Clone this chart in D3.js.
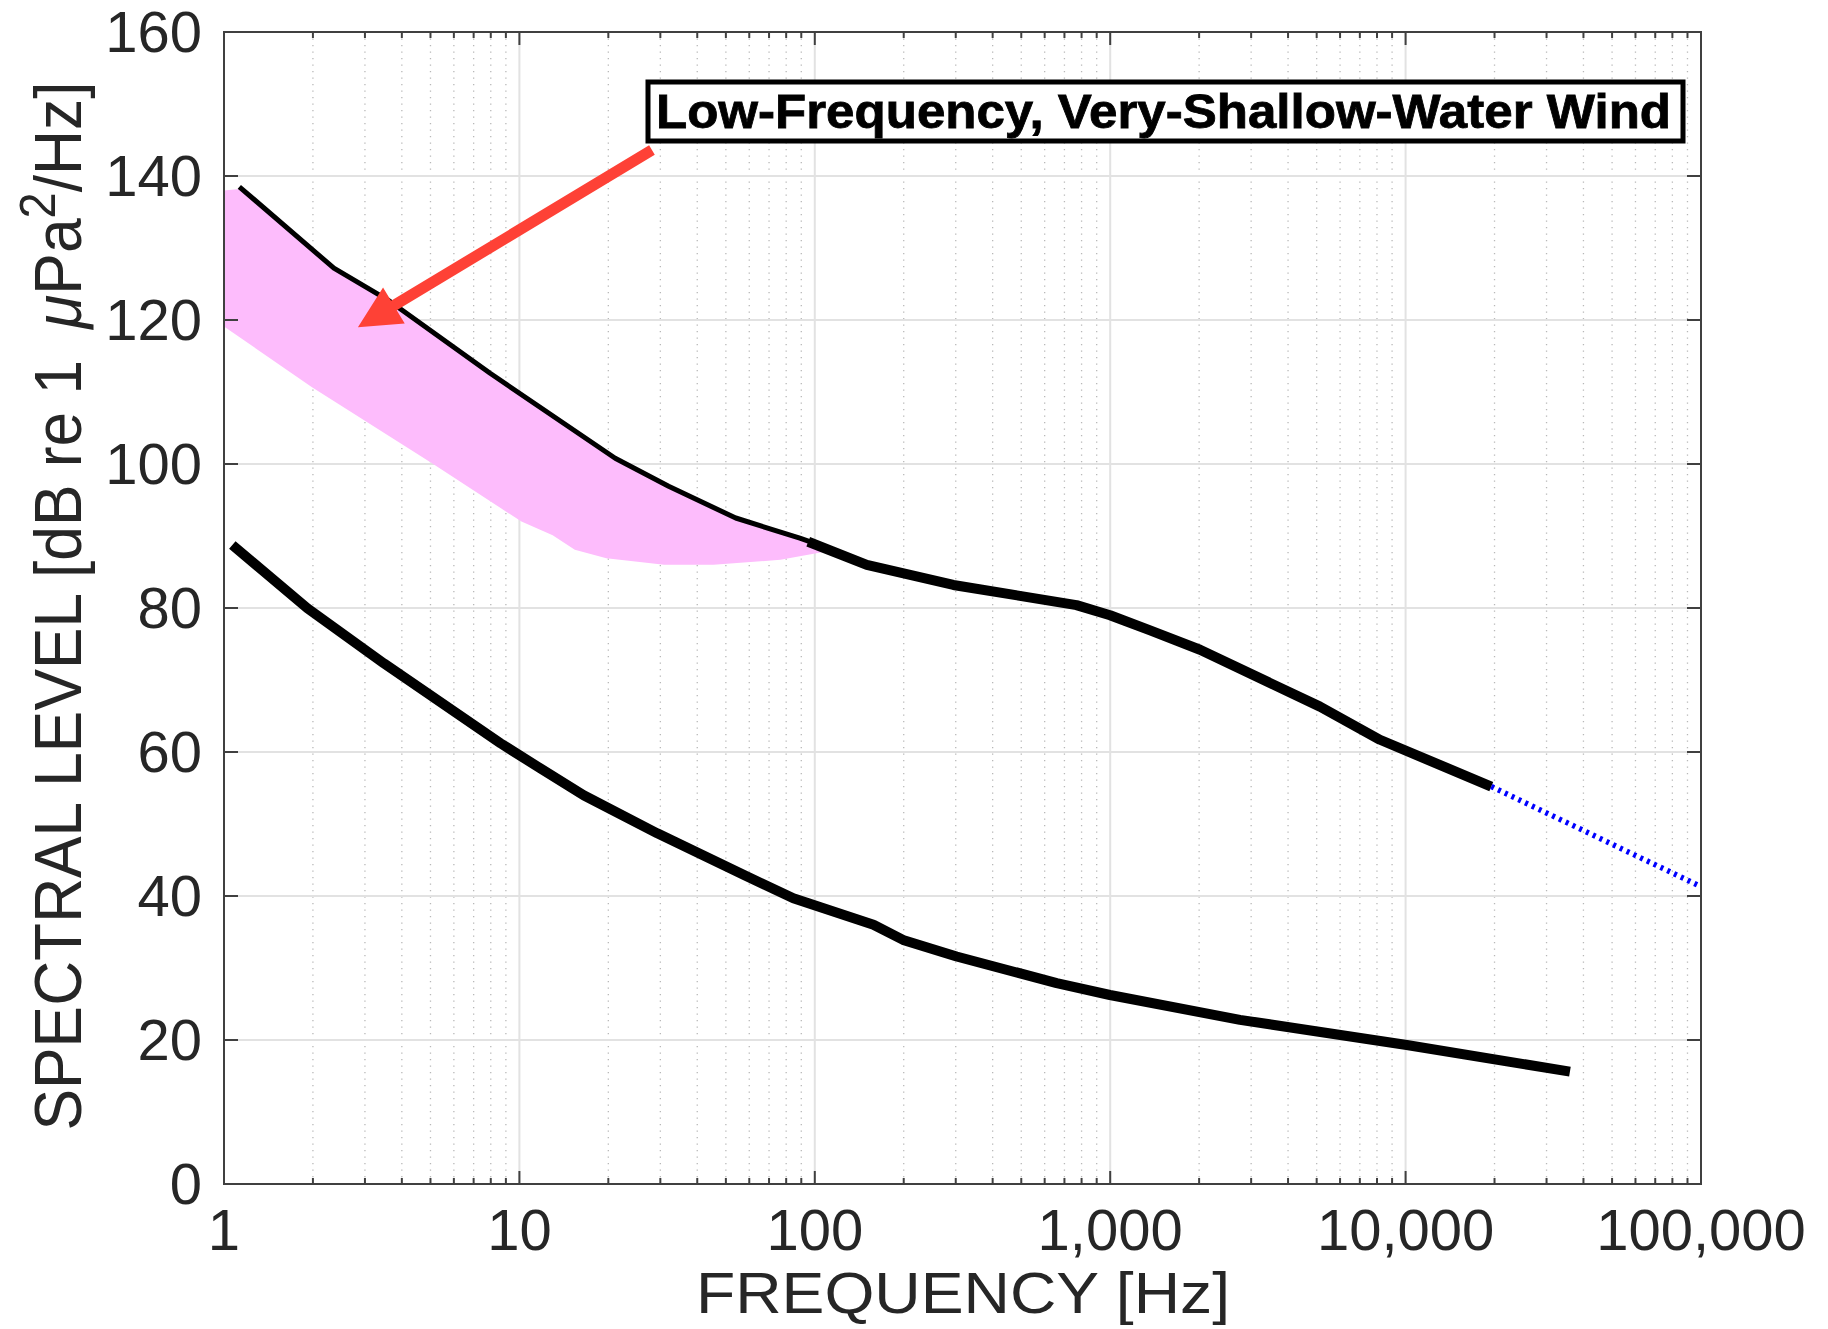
<!DOCTYPE html>
<html><head><meta charset="utf-8">
<script src="https://cdn.jsdelivr.net/npm/d3@7"></script>
<style>body{margin:0;background:#fff;} svg{display:block;}</style>
</head><body>
<svg id="chart" width="1828" height="1329"></svg>
<script>
// ---------- data ----------
const xTickValues = [1, 10, 100, 1000, 10000, 100000];
const xTickLabels = ["1", "10", "100", "1,000", "10,000", "100,000"];
const yTickValues = [0, 20, 40, 60, 80, 100, 120, 140, 160];
const yTickLabels = ["0", "20", "40", "60", "80", "100", "120", "140", "160"];

// low-frequency very-shallow-water wind (thin upper boundary)
const upperThinFreq  = [1.127, 2.355, 3.58, 7.96, 21.1, 32, 54, 89, 108];
const upperThinLevel = [138.5, 127.2, 122.8, 112.6, 100.8, 96.9, 92.5, 89.7, 88.5];

// upper thick curve
const upperFreq  = [95, 150, 294.5, 769, 999, 1365, 2014, 5130, 8190, 19500];
const upperLevel = [89.2, 86.0, 83.2, 80.4, 79.0, 76.9, 74.2, 66.3, 61.7, 55.2];

// extrapolated (blue dotted)
const extrapFreq  = [19500, 100000];
const extrapLevel = [55.2, 41.3];

// lower thick curve
const lowerFreq  = [1.067, 1.915, 3.48, 8.64, 11.8, 16.5, 29.3, 57.6, 84.6, 158, 199, 302, 659, 998, 2750, 10090, 36000];
const lowerLevel = [88.75, 79.96, 72.3, 61.2, 57.7, 54.0, 48.7, 42.9, 39.7, 36.0, 33.9, 31.6, 27.9, 26.25, 22.8, 19.3, 15.6];

// pink band
const bandUpperFreq  = [1, 1.127, 2.355, 3.58, 7.96, 21.1, 32, 54, 89, 114];
const bandUpperLevel = [138.0, 138.2, 127.0, 122.6, 112.4, 100.6, 96.7, 92.3, 89.5, 88.2];
const bandLowerFreq  = [1, 1.98, 5.06, 10.16, 12.96, 15.4, 19.7, 30.9, 45.4, 76.5, 114];
const bandLowerLevel = [119.1, 110.7, 100.1, 92.0, 90.1, 88.1, 86.9, 86.0, 86.0, 86.7, 88.0];

// annotation
const annotationText = "Low-Frequency, Very-Shallow-Water Wind";
const arrowFreq  = [28.1, 2.84];   // start, tip
const arrowLevel = [143.6, 119.0];

// ---------- layout ----------
const L = 224, R = 1701, T = 32, B = 1184;
const svg = d3.select("#chart");
const x = d3.scaleLog().domain([1, 1e5]).range([L, R]);
const y = d3.scaleLinear().domain([0, 160]).range([B, T]);
const axisColor = "#404040";
const textColor = "#262626";
const font = "'Liberation Sans', Arial, Helvetica, sans-serif";

const zip = (fs, vs) => fs.map((f, i) => [f, vs[i]]);

// grid
const minor = [];
for (let d = 1; d < 1e5; d *= 10) for (let k = 2; k <= 9; k++) minor.push(d * k);
const g = svg.append("g");
g.selectAll(".minor").data(minor).join("line")
  .attr("x1", d => x(d)).attr("x2", d => x(d)).attr("y1", T).attr("y2", B)
  .attr("stroke", "#b8b8b8").attr("stroke-width", 1.3).attr("stroke-dasharray", "1.3,5.2");
g.selectAll(".majx").data(xTickValues.slice(1, -1)).join("line")
  .attr("x1", d => x(d)).attr("x2", d => x(d)).attr("y1", T).attr("y2", B)
  .attr("stroke", "#e2e2e2").attr("stroke-width", 2);
g.selectAll(".majy").data(yTickValues.slice(1, -1)).join("line")
  .attr("x1", L).attr("x2", R).attr("y1", d => y(d)).attr("y2", d => y(d))
  .attr("stroke", "#e2e2e2").attr("stroke-width", 2);

// pink band
const band = zip(bandUpperFreq, bandUpperLevel).concat(zip(bandLowerFreq, bandLowerLevel).reverse());
const line = d3.line().x(d => x(d[0])).y(d => y(d[1]));
svg.append("path").attr("d", line(band) + "Z").attr("fill", "#fdbcfc").attr("stroke", "none");

// curves
svg.append("path").attr("d", line(zip(upperThinFreq, upperThinLevel)))
  .attr("fill", "none").attr("stroke", "#000").attr("stroke-width", 5).attr("stroke-linejoin", "round");
svg.append("path").attr("d", line(zip(upperFreq, upperLevel)))
  .attr("fill", "none").attr("stroke", "#000").attr("stroke-width", 10).attr("stroke-linejoin", "round");
svg.append("path").attr("d", line(zip(extrapFreq, extrapLevel)))
  .attr("fill", "none").attr("stroke", "#0000ff").attr("stroke-width", 5.5).attr("stroke-dasharray", "3,4.5");
svg.append("path").attr("d", line(zip(lowerFreq, lowerLevel)))
  .attr("fill", "none").attr("stroke", "#000").attr("stroke-width", 10).attr("stroke-linejoin", "round");

// axes box & ticks
const ax = svg.append("g");
ax.append("rect").attr("x", L).attr("y", T).attr("width", R - L).attr("height", B - T)
  .attr("fill", "none").attr("stroke", axisColor).attr("stroke-width", 2);
const tickPath = (x1, y1, x2, y2) => ax.append("line").attr("x1", x1).attr("y1", y1).attr("x2", x2).attr("y2", y2)
  .attr("stroke", axisColor).attr("stroke-width", 2);
xTickValues.forEach(v => { tickPath(x(v), B, x(v), B - 13); tickPath(x(v), T, x(v), T + 13); });
minor.forEach(v => { tickPath(x(v), B, x(v), B - 6); tickPath(x(v), T, x(v), T + 6); });
yTickValues.forEach(v => { tickPath(L, y(v), L + 14, y(v)); tickPath(R, y(v), R - 14, y(v)); });

// tick labels
ax.selectAll(".xl").data(xTickValues).join("text")
  .attr("x", d => x(d)).attr("y", 1250).attr("text-anchor", "middle")
  .attr("font-family", font).attr("font-size", 58).attr("fill", textColor)
  .text((d, i) => xTickLabels[i]);
ax.selectAll(".yl").data(yTickValues).join("text")
  .attr("x", 202).attr("y", d => y(d) + 20).attr("text-anchor", "end")
  .attr("font-family", font).attr("font-size", 58).attr("fill", textColor)
  .text((d, i) => yTickLabels[i]);

// axis titles
svg.append("text").attr("x", 963).attr("y", 1313).attr("text-anchor", "middle")
  .attr("font-family", font).attr("font-size", 57).attr("fill", textColor)
  .attr("textLength", 534).attr("lengthAdjust", "spacingAndGlyphs")
  .text("FREQUENCY [Hz]");

const yl = svg.append("text").attr("text-anchor", "middle")
  .attr("font-family", "'Liberation Sans Narrow', 'Liberation Sans', Arial, sans-serif")
  .attr("font-size", 66).attr("fill", textColor);
yl.append("tspan").text("SPECTRAL LEVEL [dB re 1\u2002");
yl.append("tspan").attr("font-style", "italic").text("\u03BC");
yl.append("tspan").text("Pa");
yl.append("tspan").attr("dy", -26).attr("font-size", 50).text("2");
yl.append("tspan").attr("dy", 26).text("/Hz]");
const bb = yl.node().getBBox();
const k = 1049 / bb.width;
yl.attr("transform", `translate(81,606) rotate(-90) scale(${k},1)`);

// annotation arrow
const sx = x(arrowFreq[0]), sy = y(arrowLevel[0]), tx = x(arrowFreq[1]), ty = y(arrowLevel[1]);
const dx = tx - sx, dy = ty - sy, len = Math.hypot(dx, dy);
const ux = dx / len, uy = dy / len, px = -uy, py = ux;
const headLen = 42, headW = 21, shaftW = 5.5;
const bx = tx - ux * headLen, by = ty - uy * headLen;
const arrowPts = [
  [sx + px * shaftW, sy + py * shaftW],
  [bx + px * shaftW, by + py * shaftW],
  [bx + px * headW, by + py * headW],
  [tx, ty],
  [bx - px * headW, by - py * headW],
  [bx - px * shaftW, by - py * shaftW],
  [sx - px * shaftW, sy - py * shaftW]
];
svg.append("path").attr("d", "M" + arrowPts.map(p => p.join(",")).join("L") + "Z")
  .attr("fill", "#fe4136");

// annotation box
svg.append("rect").attr("x", 648).attr("y", 82).attr("width", 1035).attr("height", 59)
  .attr("fill", "#fff").attr("stroke", "#000").attr("stroke-width", 5);
svg.append("text").attr("x", 656).attr("y", 128)
  .attr("font-family", "'Liberation Sans Narrow', 'Liberation Sans', Arial, sans-serif")
  .attr("font-weight", "bold").attr("font-size", 48).attr("fill", "#000")
  .attr("stroke", "#000").attr("stroke-width", 0.8)
  .attr("textLength", 1015).attr("lengthAdjust", "spacingAndGlyphs")
  .text(annotationText);
</script>
</body></html>
